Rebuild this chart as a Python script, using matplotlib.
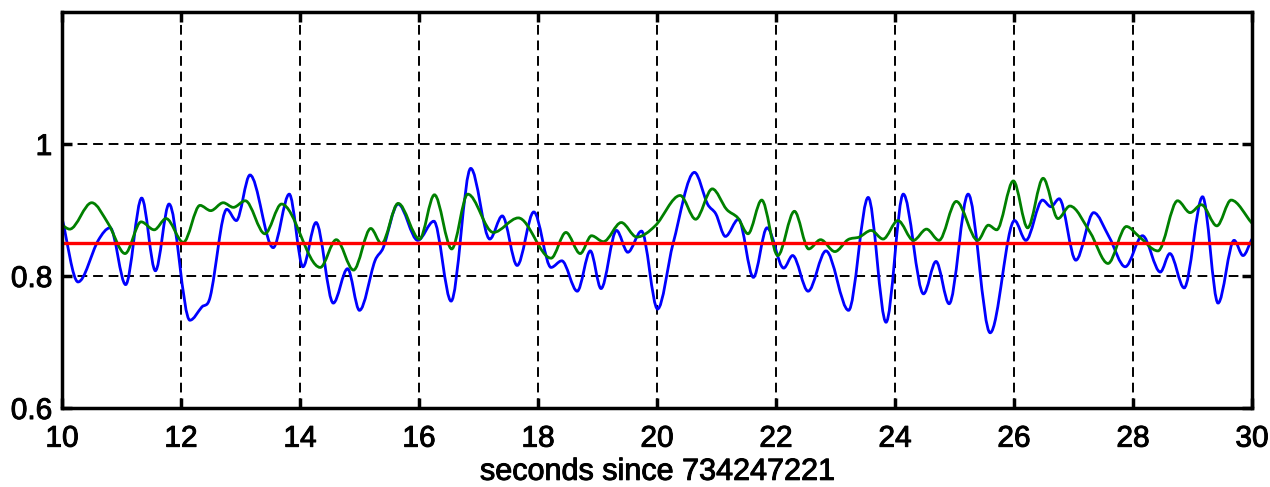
import numpy as np
import matplotlib
matplotlib.use("Agg")
import matplotlib.pyplot as plt
import matplotlib.patheffects as pe
from matplotlib.path import Path
from matplotlib.patches import PathPatch

# ---- data ----
blue_t = [10.00, 10.27, 10.61, 10.81, 11.07, 11.34, 11.57, 11.80, 12.15, 12.35,
          12.49, 12.77, 12.93, 13.16, 13.55, 13.82, 14.05, 14.27, 14.56, 14.80,
          15.00, 15.26, 15.40, 15.65, 15.98, 16.25, 16.54, 16.87, 17.19, 17.40,
          17.65, 17.93, 18.22, 18.40, 18.66, 18.88, 19.06, 19.32, 19.51, 19.74,
          20.01, 20.27, 20.63, 20.85, 20.99, 21.15, 21.37, 21.62, 21.85, 22.13,
          22.28, 22.54, 22.84, 23.22, 23.55, 23.85, 24.14, 24.48, 24.69, 24.91,
          25.23, 25.60, 26.01, 26.20, 26.48, 26.62, 26.76, 27.04, 27.34, 27.60,
          27.87, 28.16, 28.46, 28.62, 28.86, 29.17, 29.43, 29.70, 29.85, 30.00]
blue_v = [0.888, 0.791, 0.854, 0.873, 0.787, 0.918, 0.808, 0.909, 0.733, 0.753,
          0.768, 0.901, 0.884, 0.953, 0.843, 0.924, 0.814, 0.881, 0.759, 0.811,
          0.748, 0.823, 0.843, 0.909, 0.854, 0.883, 0.762, 0.963, 0.856, 0.891,
          0.816, 0.897, 0.813, 0.823, 0.777, 0.838, 0.781, 0.869, 0.836, 0.868,
          0.750, 0.849, 0.957, 0.909, 0.894, 0.860, 0.886, 0.798, 0.873, 0.812,
          0.831, 0.777, 0.838, 0.748, 0.919, 0.730, 0.924, 0.773, 0.822, 0.758,
          0.924, 0.714, 0.884, 0.854, 0.915, 0.905, 0.917, 0.824, 0.896, 0.859,
          0.814, 0.861, 0.806, 0.834, 0.782, 0.920, 0.759, 0.854, 0.831, 0.856]

green_t = [10.00, 10.13, 10.50, 10.78, 11.06, 11.33, 11.55, 11.75, 12.04, 12.32,
           12.50, 12.71, 12.88, 13.08, 13.41, 13.69, 14.34, 14.61, 14.90, 15.19,
           15.37, 15.65, 16.01, 16.26, 16.55, 16.82, 17.25, 17.67, 18.22, 18.47,
           18.71, 18.90, 19.10, 19.40, 19.66, 19.97, 20.39, 20.65, 20.93, 21.17,
           21.36, 21.53, 21.76, 22.03, 22.31, 22.55, 22.75, 22.99, 23.21, 23.40,
           23.60, 23.80, 24.05, 24.31, 24.53, 24.74, 25.03, 25.39, 25.57, 25.71,
           25.99, 26.23, 26.49, 26.74, 26.94, 27.28, 27.58, 27.89, 28.10, 28.42,
           28.75, 28.96, 29.15, 29.41, 29.65, 30.00]
green_v = [0.877, 0.871, 0.911, 0.879, 0.834, 0.882, 0.870, 0.887, 0.851, 0.907,
           0.899, 0.911, 0.904, 0.914, 0.864, 0.909, 0.813, 0.855, 0.809, 0.872,
           0.849, 0.910, 0.856, 0.923, 0.841, 0.924, 0.866, 0.888, 0.827, 0.866,
           0.834, 0.861, 0.852, 0.881, 0.859, 0.876, 0.922, 0.886, 0.932, 0.901,
           0.888, 0.864, 0.915, 0.831, 0.898, 0.841, 0.855, 0.837, 0.855, 0.859,
           0.869, 0.856, 0.884, 0.854, 0.871, 0.854, 0.913, 0.854, 0.877, 0.870,
           0.944, 0.873, 0.948, 0.887, 0.906, 0.866, 0.819, 0.875, 0.860, 0.838,
           0.914, 0.896, 0.908, 0.876, 0.915, 0.880]

threshold = 0.85
x_range = [10, 30]
x_ticks = [10, 12, 14, 16, 18, 20, 22, 24, 26, 28, 30]
y_ticks = [0.6, 0.8, 1.0]
y_tick_labels = ["0.6", "0.8", "1"]
x_label = "seconds since 734247221"


def smooth_path(t, v):
    """Cubic Hermite curve through the read points, drawn as Bezier segments."""
    t = np.asarray(t, float)
    v = np.asarray(v, float)
    n = len(t)
    m = np.zeros(n)
    for i in range(n):
        if i == 0:
            m[i] = (v[1] - v[0]) / (t[1] - t[0])
        elif i == n - 1:
            m[i] = (v[-1] - v[-2]) / (t[-1] - t[-2])
        else:
            d0 = (v[i] - v[i - 1]) / (t[i] - t[i - 1])
            d1 = (v[i + 1] - v[i]) / (t[i + 1] - t[i])
            if d0 * d1 <= 0:
                m[i] = 0.0
            else:
                m[i] = (v[i + 1] - v[i - 1]) / (t[i + 1] - t[i - 1])
    verts = [(t[0], v[0])]
    codes = [Path.MOVETO]
    for i in range(n - 1):
        h = t[i + 1] - t[i]
        verts += [(t[i] + h / 3, v[i] + m[i] * h / 3),
                  (t[i + 1] - h / 3, v[i + 1] - m[i + 1] * h / 3),
                  (t[i + 1], v[i + 1])]
        codes += [Path.CURVE4] * 3
    return Path(verts, codes)


plt.rcParams['font.family'] = ['Liberation Sans', 'DejaVu Sans']

fig = plt.figure(figsize=(12.7, 4.87), dpi=100)
ax = fig.add_axes([0.0488, 0.1622, 0.9370, 0.8132])

for t, v, c in [(blue_t, blue_v, (0, 0, 1)), (green_t, green_v, (0, 0.5, 0))]:
    ax.add_patch(PathPatch(smooth_path(t, v), facecolor='none', edgecolor=c,
                           lw=2.0, transform=ax.transData, zorder=3))
ax.plot(x_range, [threshold, threshold], color=(1, 0, 0), lw=2.4, zorder=4)

ax.set_xlim(*x_range)
ax.set_ylim(0.6, 1.2)
ax.set_xticks(x_ticks)
ax.set_xticklabels([str(x) for x in x_ticks])
ax.set_yticks(y_ticks)
ax.set_yticklabels(y_tick_labels)

ax.grid(True, color='black', linestyle=(0, (5, 3)), linewidth=1.4)
ax.set_axisbelow(True)
for s in ax.spines.values():
    s.set_linewidth(2.5)
    s.set_zorder(5)
ax.tick_params(direction='in', length=7, width=2.5, top=True, right=True,
               labelsize=21.5)
ax.tick_params(axis='x', pad=12)
ax.tick_params(axis='y', pad=7)
xl = ax.set_xlabel(x_label, fontsize=22, labelpad=3)

heavy = [pe.withStroke(linewidth=0.7, foreground='black')]
for lab in ax.get_xticklabels() + ax.get_yticklabels() + [xl]:
    lab.set_path_effects(heavy)

fig.savefig("out.png", dpi=100)
